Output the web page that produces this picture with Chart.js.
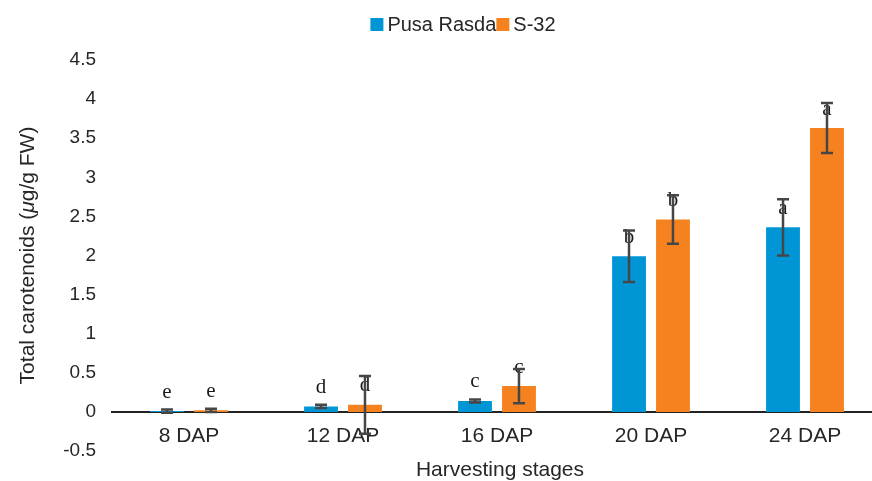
<!DOCTYPE html>
<html>
<head>
<meta charset="utf-8">
<script src="https://cdn.jsdelivr.net/npm/chart.js@4/dist/chart.umd.min.js"></script>
<style>
  html, body { margin: 0; padding: 0; background: #fff; overflow: hidden; width: 872px; height: 481px; }
  canvas { display: block; }
</style>
</head>
<body>
<canvas id="chart" width="882" height="481"></canvas>
<script>
// Harvesting stages (days after pollination)
const stages = ['8 DAP', '12 DAP', '16 DAP', '20 DAP', '24 DAP'];

// Total carotenoids, µg/g FW (mean and error)
const pusaRasda    = [0.01, 0.07, 0.14, 1.99, 2.36];
const pusaRasdaErr = [0.02, 0.02, 0.02, 0.33, 0.36];
const s32          = [0.02, 0.09, 0.33, 2.46, 3.63];
const s32Err       = [0.02, 0.37, 0.22, 0.31, 0.32];

// Significance groups shown above the bars
const pusaRasdaGroups = ['e', 'd', 'c', 'b', 'a'];
const s32Groups       = ['e', 'd', 'c', 'b', 'a'];

// Value axis range and step
const yMin = -0.5, yMax = 4.5, yStep = 0.5;

const TEXT = '#262626';
const SANS = '"Liberation Sans", Arial, Helvetica, sans-serif';

// Letters and whiskers on every bar
const errorBars = {
  id: 'errorBars',
  afterDatasetsDraw(chart) {
    const { ctx, scales: { y } } = chart;
    ctx.save();
    chart.data.datasets.forEach((ds, i) => {
      const meta = chart.getDatasetMeta(i);
      meta.data.forEach((bar, j) => {
        ctx.fillStyle = '#1a1a1a';
        ctx.font = '21px "Liberation Serif", "Times New Roman", serif';
        ctx.textAlign = 'center';
        ctx.textBaseline = 'middle';
        ctx.fillText(ds.groups[j], bar.x, bar.y - 19);
      });
    });
    chart.data.datasets.forEach((ds, i) => {
      const meta = chart.getDatasetMeta(i);
      meta.data.forEach((bar, j) => {
        const v = ds.data[j], e = ds.errors[j];
        const top = y.getPixelForValue(v + e);
        const bot = y.getPixelForValue(v - e);
        ctx.strokeStyle = '#464646';
        ctx.lineWidth = 2.5;
        ctx.beginPath();
        ctx.moveTo(bar.x, top); ctx.lineTo(bar.x, bot);
        ctx.moveTo(bar.x - 6, top); ctx.lineTo(bar.x + 6, top);
        ctx.moveTo(bar.x - 6, bot); ctx.lineTo(bar.x + 6, bot);
        ctx.stroke();
      });
    });
    ctx.restore();
  }
};

// Legend row above the plot
const legendRow = {
  id: 'legendRow',
  afterDraw(chart) {
    const ctx = chart.ctx;
    ctx.save();
    ctx.font = '20px ' + SANS;
    ctx.textBaseline = 'middle';
    ctx.textAlign = 'left';
    const box = 13, gap = 4;
    const items = chart.data.datasets.map(d => ({
      label: d.label, color: d.backgroundColor, w: ctx.measureText(d.label).width
    }));
    const total = items.reduce((s, it) => s + box + gap + it.w, 0);
    let x = 463 - total / 2;
    const cy = 24.5;
    items.forEach(it => {
      ctx.fillStyle = it.color;
      ctx.fillRect(x, cy - box / 2, box, box);
      x += box + gap;
      ctx.fillStyle = TEXT;
      ctx.fillText(it.label, x, cy + 1);
      x += it.w;
    });
    ctx.restore();
  }
};

// Axis titles; the micro sign in the vertical one is set in italics
const axisTitles = {
  id: 'axisTitles',
  afterDraw(chart) {
    const { ctx, chartArea } = chart;
    ctx.save();
    ctx.fillStyle = TEXT;
    ctx.textBaseline = 'middle';

    // horizontal axis title
    ctx.font = '21px ' + SANS;
    ctx.textAlign = 'center';
    ctx.fillText('Harvesting stages', (chartArea.left + chartArea.right) / 2 + 3, 470);

    // vertical axis title
    const parts = [
      { t: 'Total carotenoids (', f: '21px ' + SANS },
      { t: 'μ', f: 'italic 21px ' + SANS },
      { t: 'g/g FW)', f: '21px ' + SANS }
    ];
    let total = 0;
    parts.forEach(p => { ctx.font = p.f; p.w = ctx.measureText(p.t).width; total += p.w; });
    ctx.translate(28, (chartArea.top + chartArea.bottom) / 2);
    ctx.rotate(-Math.PI / 2);
    ctx.textAlign = 'left';
    let x = -total / 2;
    parts.forEach(p => { ctx.font = p.f; ctx.fillText(p.t, x, 0); x += p.w; });
    ctx.restore();
  }
};

new Chart(document.getElementById('chart'), {
  type: 'bar',
  data: {
    labels: stages,
    datasets: [
      { label: 'Pusa Rasda', data: pusaRasda, errors: pusaRasdaErr, groups: pusaRasdaGroups,
        backgroundColor: '#0096D6' },
      { label: 'S-32', data: s32, errors: s32Err, groups: s32Groups,
        backgroundColor: '#F5821F' }
    ]
  },
  options: {
    responsive: false,
    animation: false,
    events: [],
    layout: { padding: { top: 60, bottom: 30, left: 0, right: 0 } },
    datasets: { bar: { categoryPercentage: 0.571, barPercentage: 0.77 } },
    plugins: { legend: { display: false }, tooltip: { enabled: false } },
    scales: {
      x: {
        position: { y: 0 },
        grid: { display: false, drawTicks: false },
        border: { display: true, color: '#222', width: 2 },
        ticks: { color: TEXT, font: { family: SANS, size: 21 }, padding: 12 },
        title: { display: false }
      },
      y: {
        min: yMin, max: yMax,
        grid: { display: false, drawTicks: false },
        border: { display: false },
        ticks: { stepSize: yStep, color: TEXT, font: { family: SANS, size: 19 }, padding: 16,
                 callback: v => String(Number(v.toFixed(1))) },
        title: { display: false },
        afterFit(scale) { scale.width = 112; }
      }
    }
  },
  plugins: [errorBars, legendRow, axisTitles]
});
</script>
</body>
</html>
